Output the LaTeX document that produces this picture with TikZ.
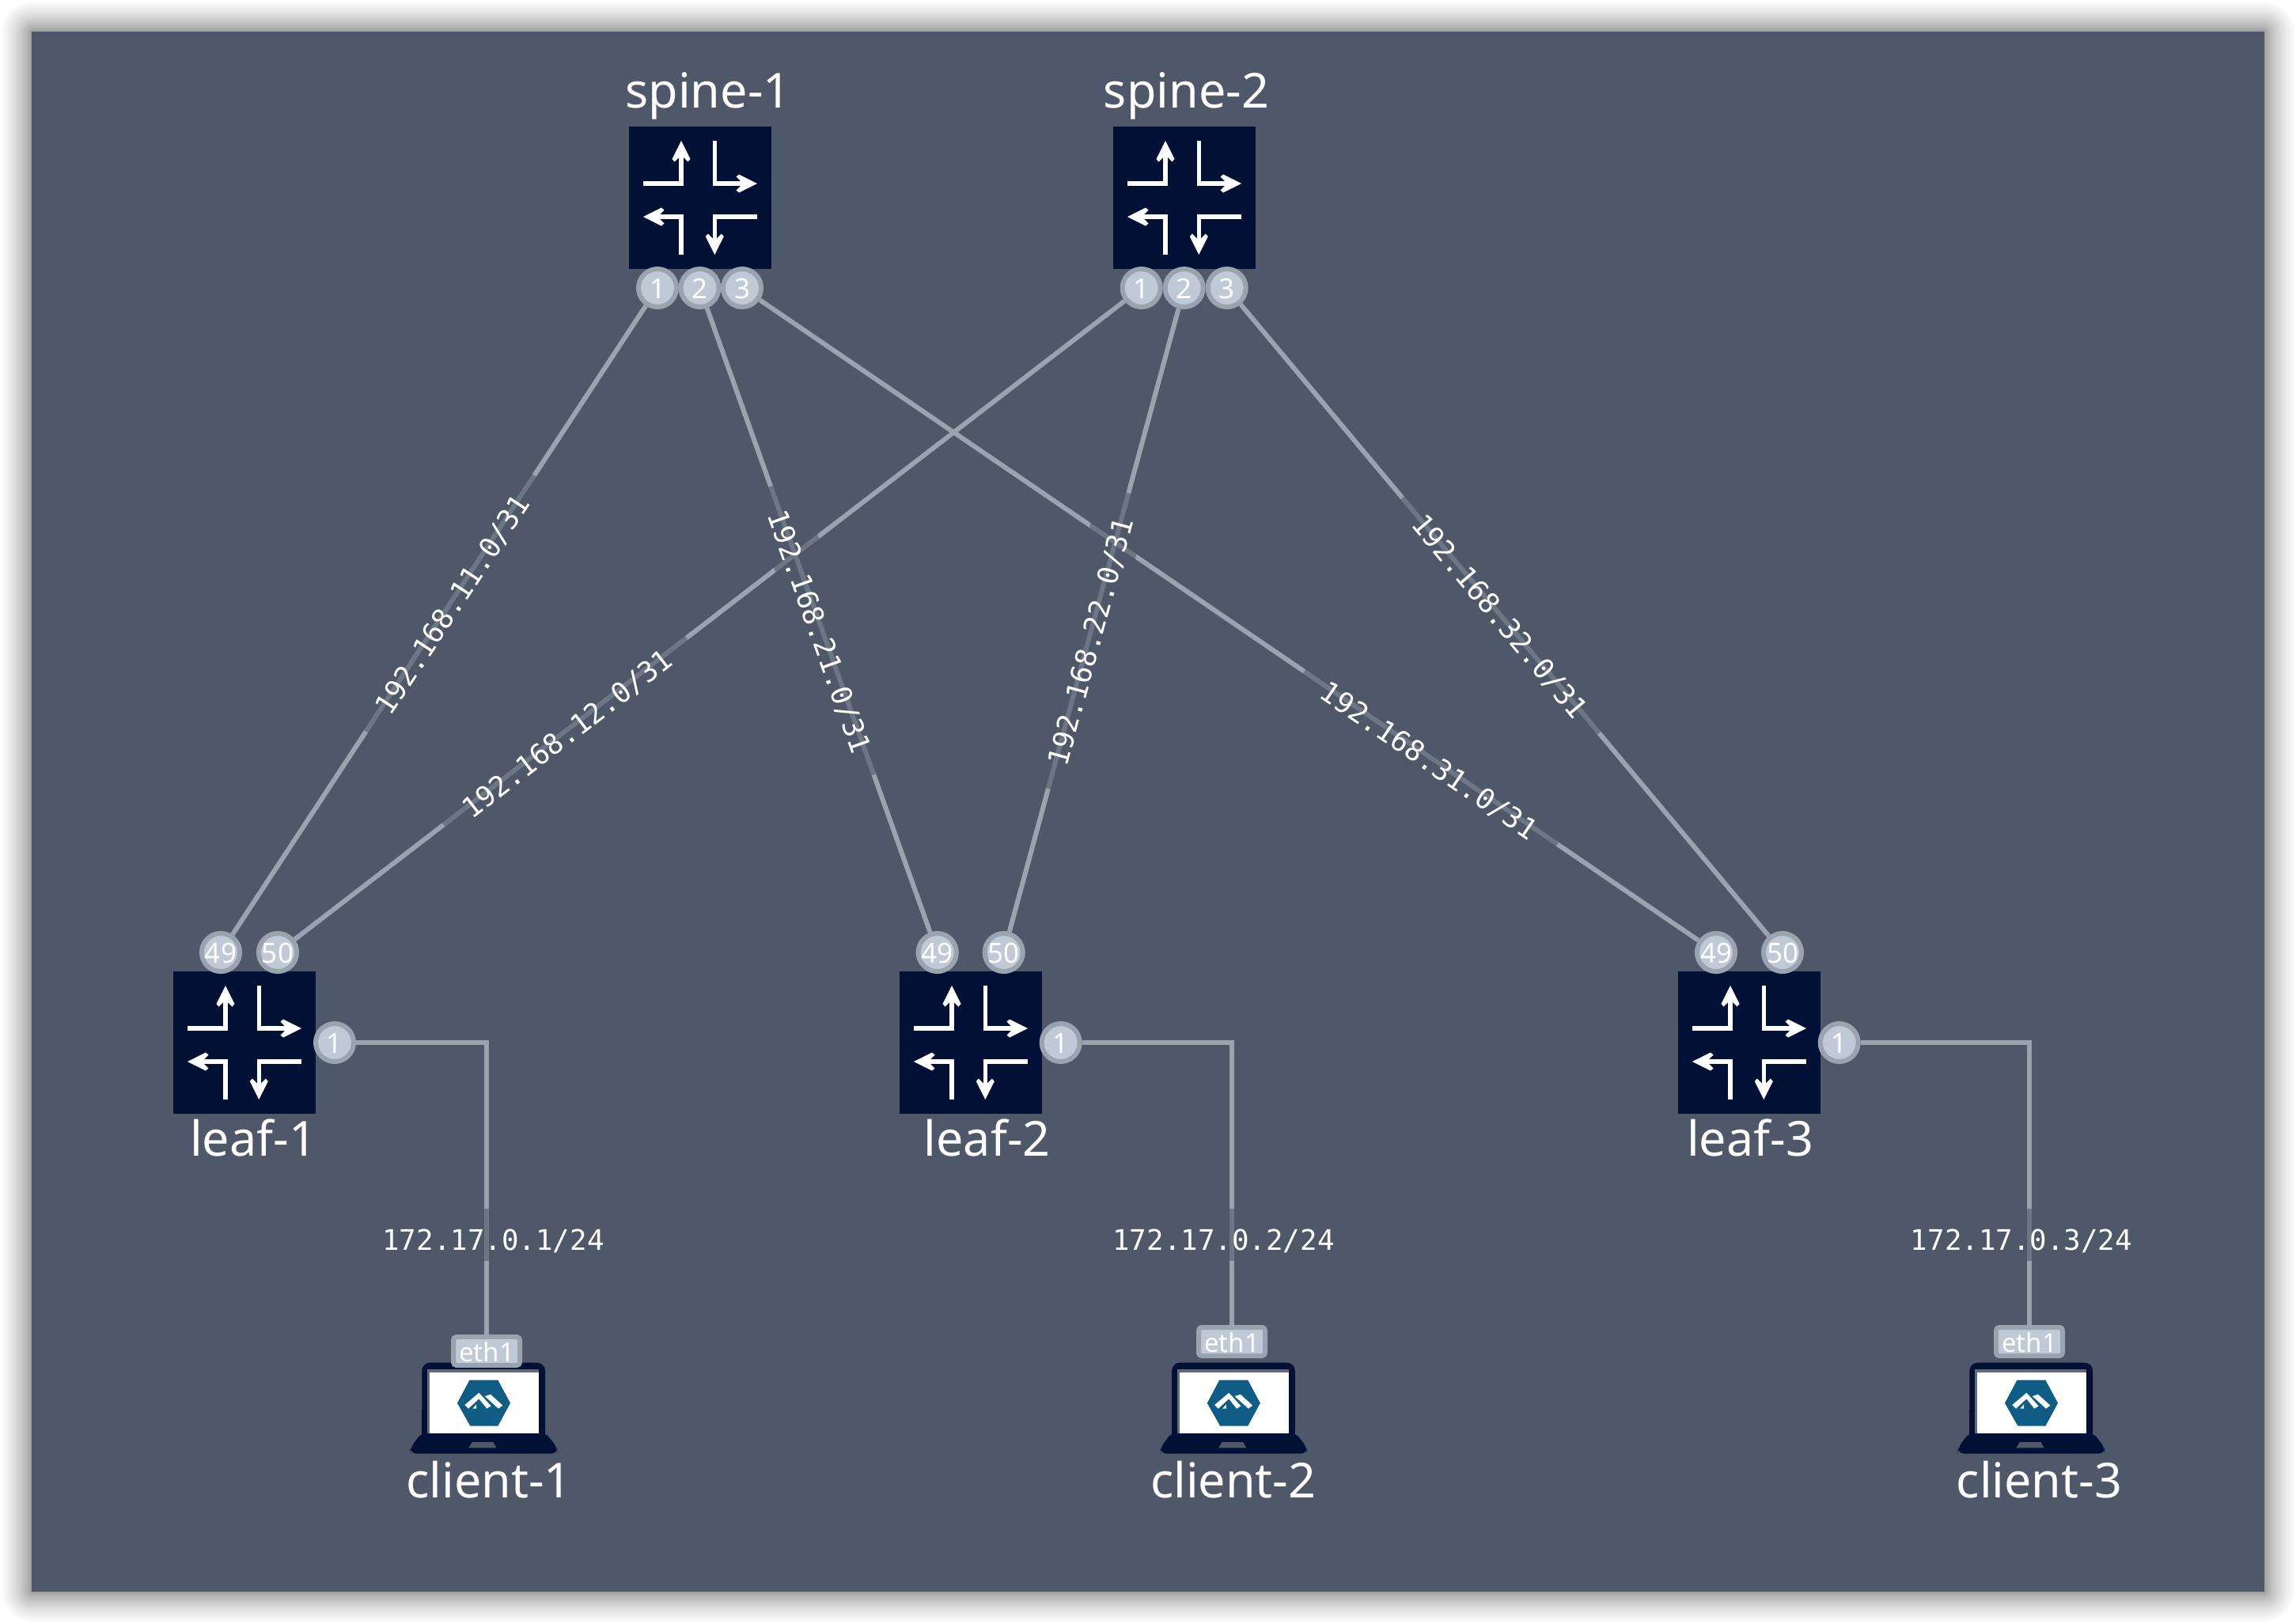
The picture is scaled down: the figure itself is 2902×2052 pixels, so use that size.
\documentclass[tikz,border=0pt]{standalone}
\usepackage{fontspec}
\setmainfont{Noto Sans}
\newfontfamily\monofnt{DejaVu Sans Mono}
\definecolor{panelbg}{HTML}{4F5868}
\definecolor{navy}{HTML}{001135}
\definecolor{linkc}{HTML}{9AA4B1}
\definecolor{portfill}{HTML}{C0CAD6}
\definecolor{hexc}{HTML}{0F5C84}
\tikzset{
  routerbox/.style={fill=navy,draw=none,minimum size=90pt,inner sep=0pt,outer sep=0pt},
  port/.style={circle,fill=portfill,draw=linkc,line width=3pt,minimum size=24pt,inner sep=0pt,text=white,text height=13.5pt,text depth=0pt,font=\fontsize{17.5}{18}\selectfont},
  ethbox/.style={rectangle,rounded corners=2pt,fill=portfill,draw=linkc,line width=3pt,minimum width=42pt,minimum height=18pt,inner sep=0pt,text=white,text height=13.5pt,text depth=0pt,font=\fontsize{16.5}{18}\selectfont},
  link/.style={draw=linkc,line width=3pt},
  netlabel/.style={fill=panelbg,fill opacity=.6,text opacity=1,text=white,font=\monofnt\fontsize{17.9}{18}\selectfont,text height=26pt,text depth=7pt,inner ysep=0pt,inner xsep=16pt,outer sep=0pt},
  devlabel/.style={text=white,anchor=base,inner sep=0pt,font=\fontsize{30.5}{32}\selectfont},
  routericon/.pic={
    \draw[white,line width=2.75pt] (-72,-18)--(-24,-18)--(-24,-55);
    \draw[white,line width=2.75pt] (18.3,-72)--(18.3,-18)--(55,-18);
    \draw[white,line width=2.75pt] (-24,72)--(-24,24)--(-55,24);
    \draw[white,line width=2.75pt] (72,24)--(18.3,24)--(18.3,55);
    \fill[white] (-24,-72)--(-35.5,-49)--(-32.5,-45.5)--(-24,-54)--(-15.5,-45.5)--(-12.5,-49)--cycle;
    \fill[white] (72,-18)--(49,-29.5)--(45.5,-26.5)--(54,-18)--(45.5,-9.5)--(49,-6.5)--cycle;
    \fill[white] (-72,24)--(-49,12.5)--(-45.5,15.5)--(-54,24)--(-45.5,32.5)--(-49,35.5)--cycle;
    \fill[white] (18.3,72)--(6.8,49)--(9.8,45.5)--(18.3,54)--(26.8,45.5)--(29.8,49)--cycle;
  },
  laptopicon/.pic={
    \fill[navy,rounded corners=4pt] (-78.3,88)--(77.3,88)--(92.7,107.3)--(92.7,115)--(-93,115)--(-93,107.3)--cycle;
    \fill[navy,rounded corners=5pt] (-78.3,0) rectangle (77.3,96);
    \fill[navy] (-78.3,60) rectangle (77.3,96);
    \fill[panelbg!90!white] (-71.5,8) rectangle (69.7,89.3);
    \fill[white] (-69,12) rectangle (69.7,89.3);
    \fill[hexc] (-18.3,22)--(17.7,22)--(33.3,51)--(17.7,80)--(-17.3,80)--(-33.7,51)--cycle;
    \begin{scope}[shift={(-41.67,17.33)},scale=.3333]
      \fill[white] (52,108)--(106,62)--(152,112)--(136,122)--(106,85)--(66,122)--cycle;
      \fill[white] (150,68)--(196,110)--(180,122)--(128,75)--cycle;
      \fill[white] (82,122)--(96,106)--(96,122)--cycle;
    \end{scope}
    \fill[panelbg] (-15,100.3)--(11.7,100.3)--(15.7,107.7)--(-19.3,107.7)--cycle;
  },
}
\begin{document}
\begin{tikzpicture}[x=.5pt,y=-.5pt]
\useasboundingbox (0,0) rectangle (2902,2052);
\fill[white] (0,0) rectangle (2902,2052);
% shadow
\foreach \i in {1,...,30}{
  \pgfmathsetmacro{\dd}{38*(\i/30)^1.9}
  \fill[black,opacity=.016,rounded corners=\dd*.5pt] (40-\dd,40-\dd) rectangle (2862+\dd,2012+\dd);
}
\fill[panelbg] (40,40) rectangle (2862,2012);

% routers
\node[routerbox] (spine1) at (885,250) {};
\node[routerbox] (spine2) at (1497,250) {};
\node[routerbox] (leaf1) at (309,1318) {};
\node[routerbox] (leaf2) at (1227,1318) {};
\node[routerbox] (leaf3) at (2211,1318) {};
\pic at (885,250) {routericon};
\pic at (1497,250) {routericon};
\pic at (309,1318) {routericon};
\pic at (1227,1318) {routericon};
\pic at (2211,1318) {routericon};

% laptops
\pic at (611.7,1722.7) {laptopicon};
\pic at (1559.5,1722.7) {laptopicon};
\pic at (2567.7,1722.7) {laptopicon};

% device labels
\node[devlabel] (spine1t) at (895,136) {spine-1};
\node[devlabel] (spine2t) at (1499.5,136) {spine-2};
\node[devlabel] (leaf1t) at (320,1461) {leaf-1};
\node[devlabel] (leaf2t) at (1247.7,1461) {leaf-2};
\node[devlabel] (leaf3t) at (2212,1461) {leaf-3};
\node[devlabel] (client1t) at (618,1893) {client-1};
\node[devlabel] (client2t) at (1558.7,1893) {client-2};
\node[devlabel] (client3t) at (2577.5,1893) {client-3};

% ports
\node[port] (s1a) at (831,364) {1};
\node[port] (s1b) at (884.5,364) {2};
\node[port] (s1c) at (938,364) {3};
\node[port] (s2a) at (1442.7,364) {1};
\node[port] (s2b) at (1496.7,364) {2};
\node[port] (s2c) at (1550.7,364) {3};
\node[port] (l1a) at (279,1204) {49};
\node[port] (l1b) at (351,1204) {50};
\node[port] (l1c) at (423,1318) {1};
\node[port] (l2a) at (1184.7,1204) {49};
\node[port] (l2b) at (1268.7,1204) {50};
\node[port] (l2c) at (1340.7,1318) {1};
\node[port] (l3a) at (2169,1204) {49};
\node[port] (l3b) at (2253,1204) {50};
\node[port] (l3c) at (2324.7,1318) {1};
\node[ethbox] (c1e) at (615,1708) {eth1};
\node[ethbox] (c2e) at (1557,1696) {eth1};
\node[ethbox] (c3e) at (2565,1696) {eth1};

% links
\draw[link] (s1a)--(l1a);
\draw[link] (s2a)--(l1b);
\draw[link] (s1b)--(l2a);
\draw[link] (s2b)--(l2b);
\draw[link] (s1c)--(l3a);
\draw[link] (s2c)--(l3b);
\draw[link] (l1c) -| (c1e);
\draw[link] (l2c) -| (c2e);
\draw[link] (l3c) -| (c3e);

% link labels
\path (s1a)--(l1a) node[netlabel,sloped,pos=.467,xshift=-3.07pt,yshift=1.3pt] (n11) {192.168.11.0/31};
\path (s2a)--(l1b) node[netlabel,sloped,pos=.67,xshift=-2.76pt,yshift=.96pt] (n12) {192.168.12.0/31};
\path (s1b)--(l2a) node[netlabel,sloped,pos=.511,xshift=2.36pt,yshift=1.11pt] (n21) {192.168.21.0/31};
\path (s2b)--(l2b) node[netlabel,sloped,pos=.53,xshift=-1.38pt,yshift=1.54pt] (n22) {192.168.22.0/31};
\path (s1c)--(l3a) node[netlabel,sloped,pos=.715,yshift=1pt] (n31) {192.168.31.0/31};
\path (s2c)--(l3b) node[netlabel,sloped,pos=.485,xshift=4pt,yshift=2.25pt] (n32) {192.168.32.0/31};
\node[netlabel] (c1n) at (623.5,1561) {172.17.0.1/24};
\node[netlabel] (c2n) at (1546.5,1561) {172.17.0.2/24};
\node[netlabel] (c3n) at (2555,1561) {172.17.0.3/24};
\end{tikzpicture}
\end{document}
